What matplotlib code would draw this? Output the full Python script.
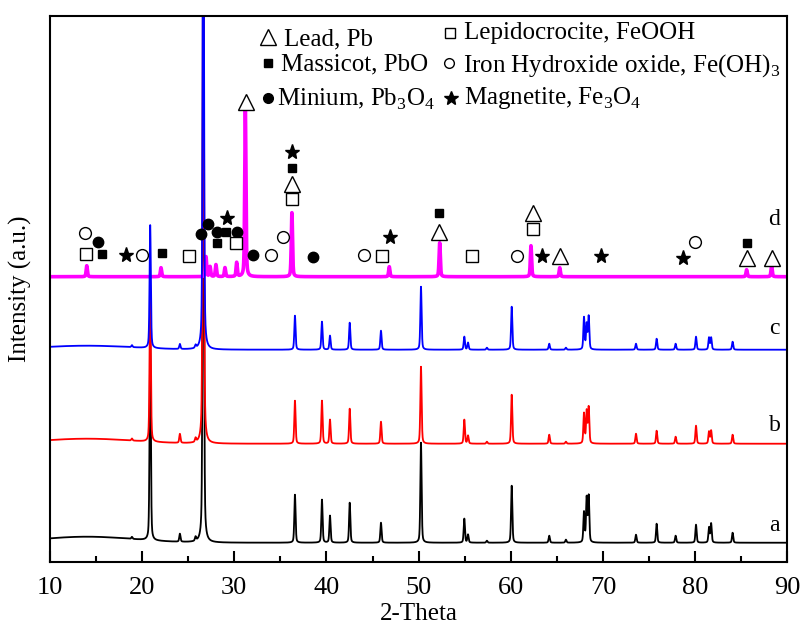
import numpy as np
import matplotlib
matplotlib.use("Agg")
import matplotlib.pyplot as plt

plt.rcParams['font.family'] = ['Liberation Serif', 'DejaVu Sans']
plt.rcParams['mathtext.fontset'] = 'custom'
plt.rcParams['mathtext.rm'] = 'Liberation Serif'

# quartz-type reflections shared by patterns a, b, c (2-theta, deg)
peak_pos = [18.9, 20.88, 24.1, 25.8, 26.64, 36.58, 39.51, 40.38, 42.52, 45.91,
            50.25, 54.95, 55.35, 57.4, 60.09, 64.16, 65.97, 67.93, 68.22, 68.44,
            73.57, 75.81, 77.87, 80.08, 81.49, 81.72, 84.05]
heights_a = [2, 200, 8, 4, 600, 48, 43, 27, 40, 20,
             100, 24, 8, 2, 57, 7, 3, 30, 44, 46,
             8, 19, 7, 18, 15, 19, 10]
heights_b = [2, 150, 9, 4, 600, 43, 43, 24, 35, 22,
             77, 24, 8, 2, 49, 9, 2, 30, 32, 36,
             10, 13, 7, 18, 12, 13, 9]
heights_c = [2, 123, 5, 3, 600, 34, 28, 14, 27, 19,
             63, 13, 7, 2, 43, 6, 2, 32, 25, 33,
             6, 11, 6, 13, 12, 12, 8]

# pattern d (corrosion products)
peak_pos_d = [14.0, 22.05, 26.93, 27.37, 28.01, 28.99, 30.26, 31.2, 36.25,
              46.81, 52.28, 62.18, 65.3, 85.57, 88.28]
heights_d = [11, 9, 20, 10, 12, 9, 14, 167, 64, 10, 34, 31, 9, 7, 11]

# background level of each pattern and amorphous hump
offsets = {'a': 19, 'b': 118, 'c': 212, 'd': 285}
hump = {'a': 6, 'b': 5, 'c': 4, 'd': 0}

# phase markers above pattern d
lead_x = [31.24, 36.29, 52.23, 62.36, 65.33, 85.57, 88.28]
lead_y = [460, 378, 330, 349, 306, 304, 304]
massicot_x = [15.62, 22.16, 28.09, 29.1, 36.29, 52.23, 85.57]
massicot_y = [308, 309, 319, 330, 394, 349, 319]
minium_x = [15.18, 26.39, 27.11, 28.09, 30.33, 32.06, 38.57]
minium_y = [320, 328, 338, 330, 330, 307, 305]
lepido_x = [13.92, 25.12, 30.15, 36.29, 45.99, 55.75, 62.36]
lepido_y = [308, 306, 319, 363, 306, 306, 333]
ironhyd_x = [13.81, 19.95, 33.95, 35.32, 44.07, 60.63, 79.97]
ironhyd_y = [329, 307, 307, 325, 307, 306, 320]
magnetite_x = [18.22, 29.17, 36.29, 46.89, 63.34, 69.77, 78.63]
magnetite_y = [307, 344, 410, 325, 306, 306, 304]


def pattern(x, pos, h, fwhm=0.16, eta=0.4):
    y = np.zeros_like(x)
    for p, a in zip(pos, h):
        d = (x - p) / (fwhm / 2)
        y += a * (eta / (1 + d**2) + (1 - eta) * np.exp(-np.log(2) * d**2))
    return y


tt = np.linspace(10, 90, 8001)


def background(key):
    return offsets[key] + hump[key] * np.exp(-0.5 * ((tt - 14) / 5) ** 2)


ya = background('a') + pattern(tt, peak_pos, heights_a)
yb = background('b') + pattern(tt, peak_pos, heights_b)
yc = background('c') + pattern(tt, peak_pos, heights_c)
yd = background('d') + pattern(tt, peak_pos_d, heights_d)

fig = plt.figure(figsize=(8.06, 6.33), dpi=100)
ax = fig.add_axes([0.0619, 0.1126, 0.9151, 0.8626])

ax.plot(tt, ya, color='black', lw=1.3)
ax.plot(tt, yb, color='red', lw=1.3)
ax.plot(tt, yd, color='#ff00ff', lw=2.6)
ax.plot(tt, yc, color='blue', lw=1.3)

mk = dict(ls='none', color='black', mew=1.0)
ax.plot(lead_x, lead_y, marker='^', ms=11, mfc='white', **mk)
ax.plot(massicot_x, massicot_y, marker='s', ms=6, **mk)
ax.plot(minium_x, minium_y, marker='o', ms=7.5, **mk)
ax.plot(lepido_x, lepido_y, marker='s', ms=8.5, mfc='white', **mk)
ax.plot(ironhyd_x, ironhyd_y, marker='o', ms=8.5, mfc='white', **mk)
ax.plot(magnetite_x, magnetite_y, marker='*', ms=11, **mk)

# legend drawn as text block
leg = [
    (0.2953, 0.9605, '^', 11, 'white', 0.3174, 0.9463, 'Lead, Pb'),
    (0.2953, 0.9128, 's', 6, 'black', 0.3129, 0.8993, 'Massicot, PbO'),
    (0.2953, 0.8487, 'o', 7, 'black', 0.3083, 0.8346, r'Minium, Pb$_{\mathregular{3}}$O$_{\mathregular{4}}$'),
    (0.5424, 0.9678, 's', 7, 'white', 0.5618, 0.9568, 'Lepidocrocite, FeOOH'),
    (0.5415, 0.9128, 'o', 7, 'white', 0.5605, 0.8974, r'Iron Hydroxide oxide, Fe(OH)$_{\mathregular{3}}$'),
    (0.5434, 0.8487, '*', 10, 'black', 0.5618, 0.8377, r'Magnetite, Fe$_{\mathregular{3}}$O$_{\mathregular{4}}$'),
]
for mx, my, m, s, fc, tx, ty, label in leg:
    ax.plot([mx], [my], marker=m, ms=s, mfc=fc, mec='black', mew=1.0,
            transform=ax.transAxes, clip_on=False)
    ax.text(tx, ty, label, transform=ax.transAxes, fontsize=18,
            ha='left', va='baseline')

# pattern labels
for lab, yy in zip(['a', 'b', 'c', 'd'], [36, 136, 233, 342]):
    ax.text(88.6, yy, lab, fontsize=17, ha='center', va='center')

ax.set_xlim(10, 90)
ax.set_ylim(0, 546)
ax.set_xticks(np.arange(10, 91, 10))
ax.set_xticks(np.arange(15, 90, 10), minor=True)
ax.set_yticks([])
ax.tick_params(axis='x', which='major', direction='in', length=8, width=1.5,
               labelsize=19, pad=11)
ax.tick_params(axis='x', which='minor', direction='in', length=4, width=1.5)
for sp in ax.spines.values():
    sp.set_linewidth(1.5)

ax.set_xlabel('2-Theta', fontsize=18)
ax.set_ylabel('Intensity (a.u.)', fontsize=18)
ax.xaxis.set_label_coords(0.5, -0.075)
ax.yaxis.set_label_coords(-0.024, 0.5)

fig.savefig('out.png', dpi=100)
